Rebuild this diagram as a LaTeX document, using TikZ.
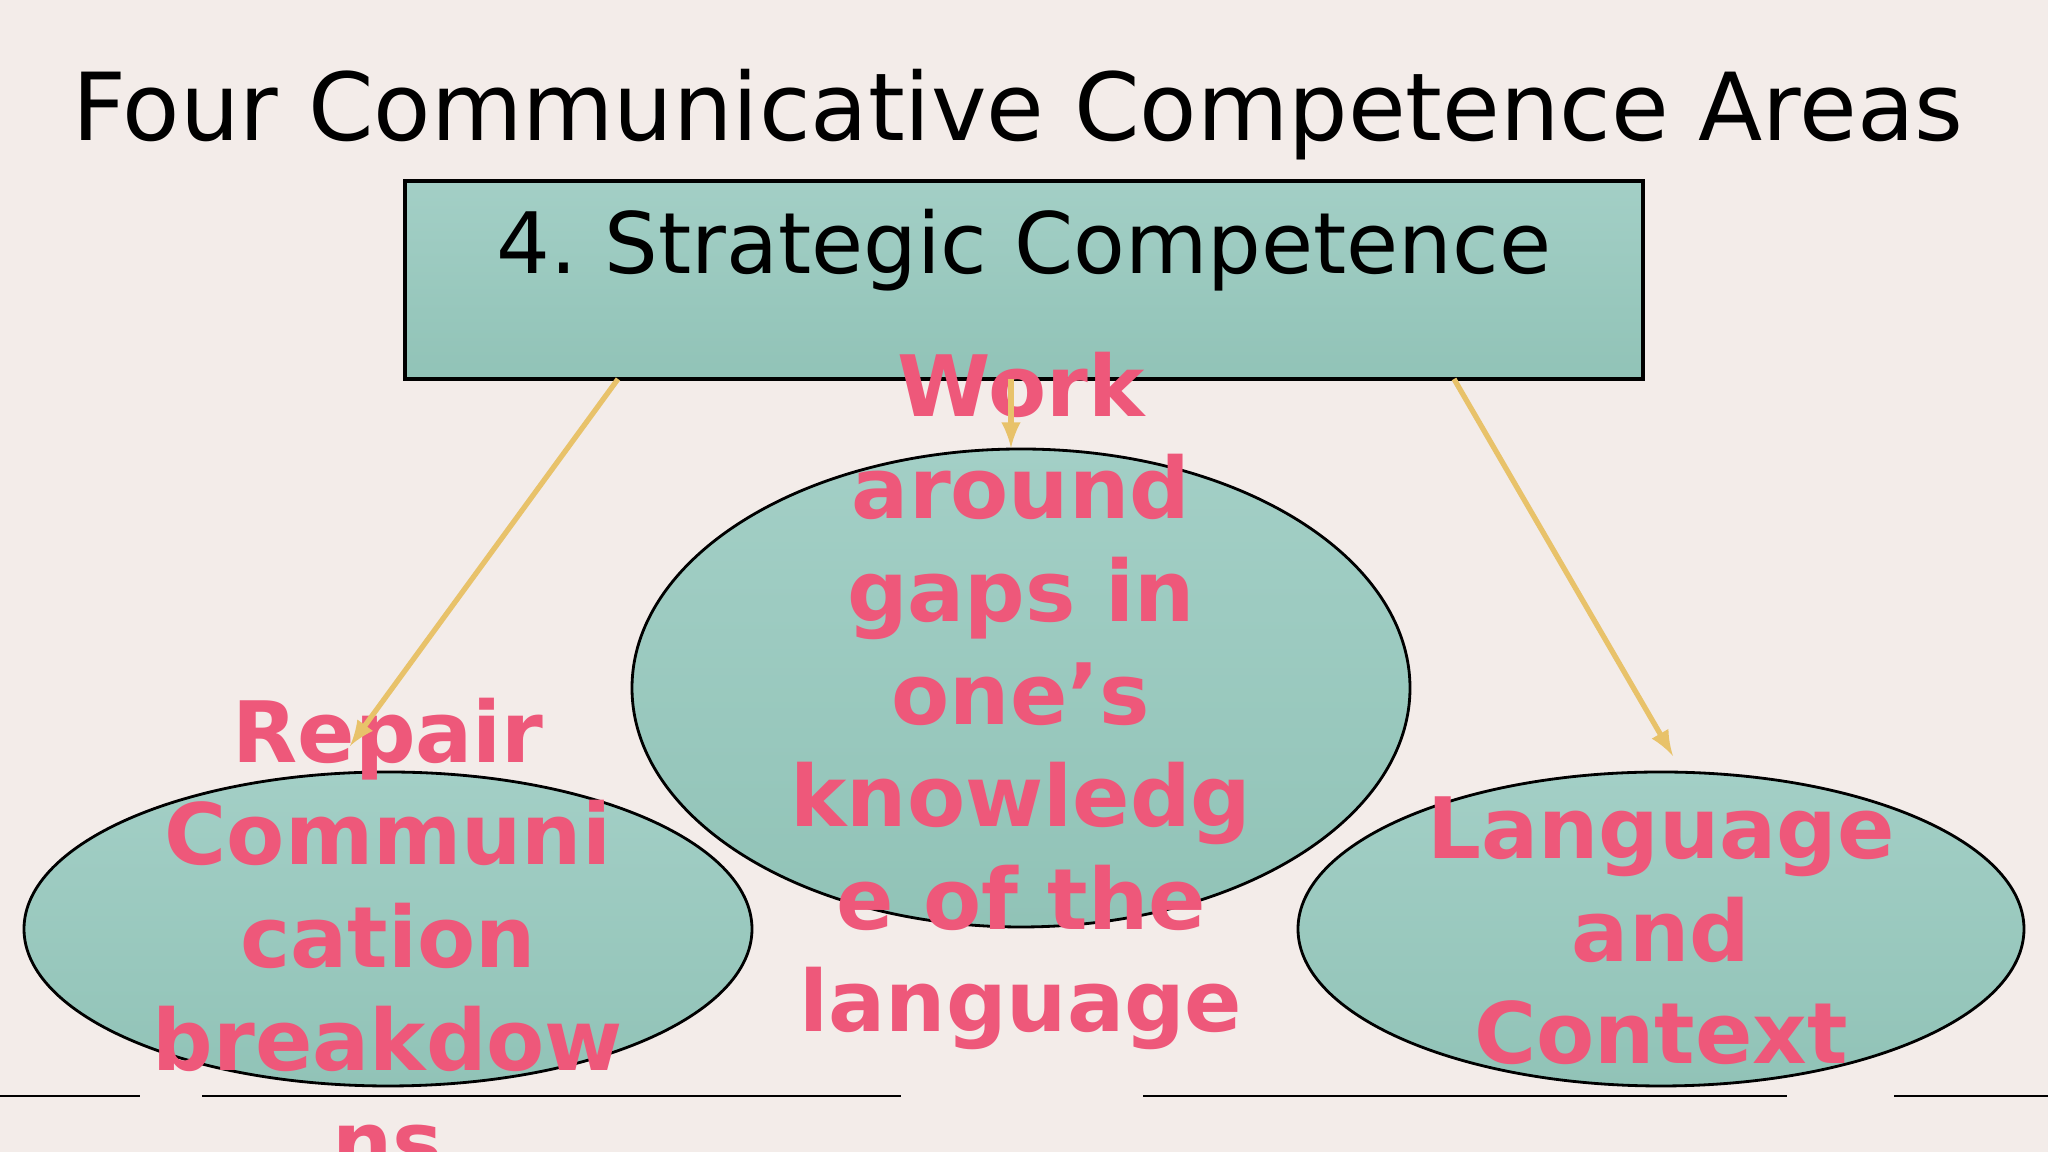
\documentclass[tikz,border=0pt]{standalone}
\usepackage{fontspec}
\setmainfont{DejaVu Sans}
\usetikzlibrary{shapes.geometric}
\definecolor{bgpink}{RGB}{243,236,233}
\definecolor{tealtop}{RGB}{163,207,198}
\definecolor{tealbot}{RGB}{145,195,183}
\definecolor{rosetext}{RGB}{238,88,122}
\definecolor{arrowgold}{RGB}{232,194,106}

\begin{document}
\begin{tikzpicture}[>=latex,
    bubble/.style={ellipse,draw,line width=0.8pt,top color=tealtop,bottom color=tealbot,inner sep=0pt,outer sep=0pt},
    pinktext/.style={align=center,text=rosetext,font=\fontsize{24.1}{29.2}\selectfont\bfseries},
    goldarrow/.style={->,draw=arrowgold,line width=1.5pt}]
                        % Page
                        \useasboundingbox (0,0) rectangle (20.48,11.52);
                        \fill[bgpink] (0,0) rectangle (20.48,11.52);
                        \node[anchor=base,font=\fontsize{26.7}{32}\selectfont] (title) at (10.18,10.11) {Four Communicative Competence Areas};
                        % Box
                        \draw (10.24,8.72) node[rectangle,draw,line width=0.9pt,top color=tealtop,bottom color=tealbot,minimum width=12.38cm,minimum height=1.98cm,inner sep=0pt,outer sep=0pt] (box) {};
                        \node[anchor=base,font=\fontsize{24.1}{29}\selectfont] (boxtext) at (10.24,8.78) {4.\ Strategic Competence};
                        % Ellipses
                        \draw (10.21,4.64) node[bubble,minimum width=7.78cm,minimum height=4.78cm] (mid) {};
                        \draw (3.88,2.23) node[bubble,minimum width=7.28cm,minimum height=3.14cm] (left) {};
                        \draw (16.61,2.23) node[bubble,minimum width=7.26cm,minimum height=3.14cm] (right) {};
                        % Texts
                        \node[pinktext] (work) at (10.21,4.51) {Work\\around\\gaps in\\one’s\\knowledg\\e of the\\language};
                        \node[pinktext] (repair) at (3.88,2.16) {Repair\\Communi\\cation\\breakdow\\ns};
                        \node[pinktext] (context) at (16.61,2.21) {Language\\and\\Context};
                        % Arrows
                        \coordinate (a1) at (6.18,7.73);
                        \coordinate (a2) at (10.11,7.73);
                        \coordinate (a3) at (14.54,7.73);
                        \coordinate (b1) at (3.50,4.06);
                        \coordinate (b2) at (10.11,7.04);
                        \coordinate (b3) at (16.73,3.96);
                        \draw [goldarrow] (a1) -- (b1);
                        \draw [goldarrow] (a2) -- (b2);
                        \draw [goldarrow] (a3) -- (b3);
                        % Rules
                        \draw[line width=0.6pt] (0,0.56) -- (1.40,0.56);
                        \draw[line width=0.6pt] (2.02,0.56) -- (9.01,0.56);
                        \draw[line width=0.6pt] (11.43,0.56) -- (17.87,0.56);
                        \draw[line width=0.6pt] (18.94,0.56) -- (20.48,0.56);
                    \end{tikzpicture}
\end{document}
